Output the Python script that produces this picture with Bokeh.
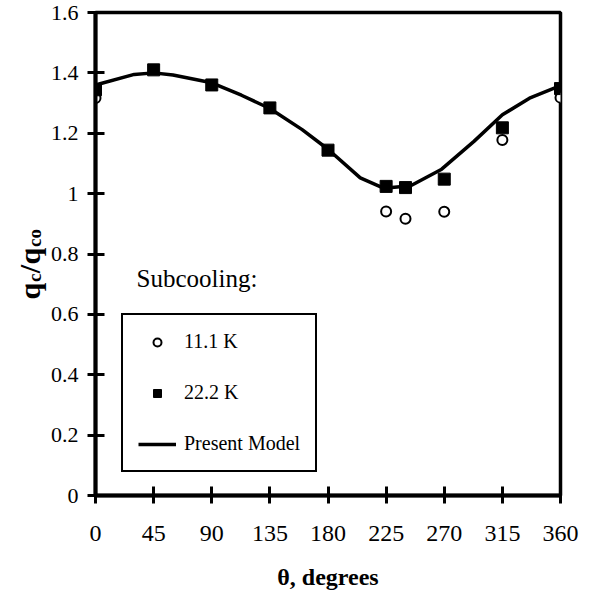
import math
from bokeh.plotting import figure
from bokeh.layouts import gridplot
from bokeh.models import Range1d, SingleIntervalTicker, Label, Legend, LegendItem
from bokeh.embed import file_html
from bokeh.resources import INLINE

# ---- data ----
theta_model = [0, 30, 45, 60, 90, 113, 135, 160, 180, 205, 223, 244, 268, 293, 315, 336, 360]
q_model = [1.36, 1.395, 1.40, 1.393, 1.367, 1.326, 1.282, 1.212, 1.147, 1.052, 1.018, 1.026,
           1.081, 1.173, 1.261, 1.316, 1.358]

theta_22 = [0, 45, 90, 135, 180, 225, 240, 270, 315, 360]
q_22 = [1.344, 1.41, 1.36, 1.284, 1.144, 1.024, 1.02, 1.048, 1.218, 1.348]

theta_11 = [0, 225, 240, 270, 315, 360]
q_11 = [1.317, 0.941, 0.917, 0.94, 1.178, 1.318]

x_tick_step = 45      # ticks 0, 45, ..., 360
y_tick_step = 0.2     # ticks 0, 0.2, ..., 1.6 (labels 0 0.2 ... 1 1.2 1.4 1.6)

series_labels = ["11.1 K", "22.2 K", "Present Model"]
legend_title = "Subcooling:"
x_title = "\u03b8, degrees"
y_title_pieces = [("q", False), ("c", True), ("/", False), ("q", False), ("co", True)]

SERIF = "Liberation Serif"

# ---- layout ----
W, H = 593, 599
TITLE_W = 47
LEFT, RIGHT, TOP, BOTTOM = 94, 33, 12, 104
FRAME_BOTTOM = H - BOTTOM

# --- strip holding the rotated y-axis title ---
t = figure(width=TITLE_W, height=H, output_backend="svg", toolbar_location=None,
           x_range=Range1d(0, 1), y_range=Range1d(0, 1), x_axis_type=None, y_axis_type=None,
           min_border_left=0, min_border_right=0, min_border_top=TOP, min_border_bottom=BOTTOM,
           outline_line_color=None)
t.xgrid.visible = False
t.ygrid.visible = False
sizes = {False: 30, True: 19}
advance = {"q": 17.5, "c": 8.8, "/": 8.8, "co": 18.5}
Y = 299.0
for txt, sub in y_title_pieces:
    X = 29 + (5 if sub else 0)
    t.add_layout(Label(x=X, y=FRAME_BOTTOM - Y, x_units="screen", y_units="screen",
                       text=txt, text_font=SERIF, text_font_style="bold",
                       text_font_size=f"{sizes[sub]}px", text_color="black",
                       angle=math.pi / 2, angle_units="rad",
                       text_align="left", text_baseline="alphabetic"))
    Y -= advance[txt]

# --- main chart ---
p = figure(width=W - TITLE_W, height=H, output_backend="svg", toolbar_location=None,
           x_range=Range1d(0, 360), y_range=Range1d(0, 1.6),
           min_border_left=LEFT - TITLE_W, min_border_right=RIGHT,
           min_border_top=TOP, min_border_bottom=BOTTOM,
           outline_line_color="black", outline_line_width=3.5)
xa, ya = p.xaxis[0], p.yaxis[0]
p.outline_line_alpha = 1.0
p.xgrid.visible = False
p.ygrid.visible = False
xa.ticker = SingleIntervalTicker(interval=x_tick_step, num_minor_ticks=0)
ya.ticker = SingleIntervalTicker(interval=y_tick_step, num_minor_ticks=0)
for ax in (xa, ya):
    ax.axis_line_width = 4
    ax.major_tick_line_width = 3
    ax.major_tick_in = 9
    ax.major_tick_out = 8
    ax.minor_tick_in = 0
    ax.minor_tick_out = 0
    ax.major_label_text_font = SERIF
    ax.major_label_text_color = "black"

xa.major_label_text_font_size = "24px"
xa.major_label_standoff = 22
xa.axis_label = x_title
xa.axis_label_text_font = SERIF
xa.axis_label_text_font_style = "bold"
xa.axis_label_text_font_size = "24px"
xa.axis_label_text_color = "black"
xa.axis_label_standoff = 20
ya.major_label_text_font_size = "22px"
ya.major_label_standoff = 9

# ---- glyphs ----
r_line = p.line(theta_model, q_model, line_color="black", line_width=3.5)
r_11 = p.scatter(theta_11, q_11, marker="circle", size=10, fill_color="white",
                 line_color="black", line_width=2)
r_22 = p.scatter(theta_22, q_22, marker="square", size=12, fill_color="black",
                 line_color="black", line_width=1)

legend = Legend(items=[LegendItem(label=series_labels[0], renderers=[r_11]),
                       LegendItem(label=series_labels[1], renderers=[r_22]),
                       LegendItem(label=series_labels[2], renderers=[r_line])],
                location=(26, 23),
                border_line_color="black", border_line_width=2.5, border_line_alpha=1.0,
                background_fill_color="white", background_fill_alpha=1.0,
                label_text_font=SERIF, label_text_font_size="20px", label_text_color="black",
                glyph_width=38, glyph_height=20, label_standoff=8,
                spacing=28, padding=15, margin=0)
p.add_layout(legend)

p.add_layout(Label(x=135 - LEFT, y=FRAME_BOTTOM - 278, x_units="screen", y_units="screen",
                   text=legend_title, text_font=SERIF, text_font_size="25px",
                   text_color="black", text_baseline="middle"))

g = gridplot([[t, p]], toolbar_location=None)
open("out.html", "w").write(file_html(g, INLINE))
